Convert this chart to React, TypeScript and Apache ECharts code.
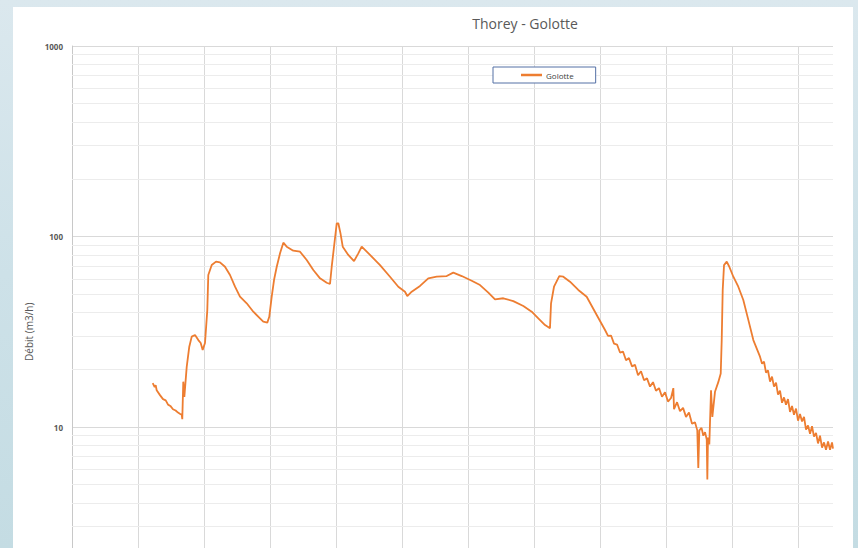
import React, { useEffect, useRef } from "react";
import * as echarts from "echarts";

const chartTitle = "Thorey - Golotte";
const seriesName = "Golotte";
const yAxisTitle = "Débit (m3/h)";

// x position in grid-column units (one vertical gridline per unit)
const timeAxis = [
  1.223, 1.253, 1.268, 1.283, 1.333, 1.379, 1.42, 1.455, 1.49, 1.53, 1.57, 1.606, 1.64, 1.662, 1.671, 1.686, 1.702,
  1.738, 1.777, 1.814, 1.864, 1.914, 1.95, 1.98, 2.015, 2.05, 2.065, 2.117, 2.182, 2.242, 2.318, 2.394, 2.47, 2.545,
  2.647, 2.747, 2.848, 2.898, 2.959, 2.989, 3.026, 3.061, 3.102, 3.152, 3.202, 3.253, 3.353, 3.455, 3.556, 3.656,
  3.758, 3.859, 3.909, 3.935, 3.97, 4.011, 4.035, 4.068, 4.102, 4.186, 4.273, 4.338, 4.389, 4.515, 4.667, 4.818,
  4.944, 5.045, 5.08, 5.147, 5.273, 5.398, 5.526, 5.677, 5.777, 5.905, 6.056, 6.182, 6.308, 6.409, 6.535, 6.686,
  6.838, 6.965, 7.065, 7.167, 7.242, 7.258, 7.303, 7.383, 7.444, 7.545, 7.671, 7.798, 7.95,
  8.076, 8.121, 8.167, 8.212, 8.258, 8.303, 8.348, 8.394, 8.439, 8.485, 8.53, 8.576, 8.621, 8.667, 8.712, 8.758,
  8.803, 8.848, 8.894, 8.939, 8.985, 9.03, 9.076, 9.111, 9.121, 9.167, 9.212, 9.258, 9.303, 9.348, 9.394, 9.439,
  9.474, 9.489, 9.505, 9.538, 9.565, 9.591, 9.617, 9.626, 9.636, 9.656, 9.682, 9.702, 9.742, 9.792, 9.829, 9.844,
  9.859, 9.879, 9.92, 9.959, 10.02, 10.095, 10.171, 10.247, 10.323, 10.424,
  10.455, 10.485, 10.515, 10.545, 10.576, 10.606, 10.636, 10.667, 10.697, 10.727, 10.758, 10.788, 10.818, 10.848,
  10.879, 10.909, 10.939, 10.97, 11.0, 11.03, 11.061, 11.091, 11.121, 11.152, 11.182, 11.212, 11.242, 11.273,
  11.303, 11.333, 11.364, 11.394, 11.424, 11.455, 11.485, 11.515, 11.53,
];

// Débit (m3/h)
const debit = [
  17.0, 16.2, 16.6, 15.6, 14.7, 14.0, 13.8, 13.1, 12.9, 12.4, 12.2, 11.9, 11.7, 11.6, 11.0, 17.3, 14.4,
  20.7, 26.4, 29.8, 30.4, 28.6, 27.6, 25.4, 27.6, 41.1, 62.8, 70.8, 73.8, 73.2, 69.4, 62.8, 54.5, 48.3,
  44.6, 40.3, 37.2, 35.7, 35.3, 37.9, 48.3, 59.1, 69.4, 81.6, 92.8, 88.4, 84.2, 83.2, 75.3, 66.7,
  60.3, 57.2, 56.3, 69.4, 88.4, 117.3, 117.3, 103.9, 88.4, 80.0, 74.2, 81.6, 88.4, 80.0, 70.8, 61.5,
  54.5, 51.3, 48.7, 51.3, 55.0, 60.3, 61.5, 62.0, 64.6, 62.0, 58.6, 55.6, 50.7, 46.8, 47.4, 45.8,
  43.2, 40.3, 37.2, 34.3, 33.0, 44.6, 54.5, 62.0, 61.5, 57.9, 52.4, 48.3, 38.7,
  32.3, 30.1, 30.2, 27.4, 27.1, 24.6, 24.9, 22.4, 23.0, 20.8, 21.2, 18.7, 19.6, 17.6, 18.0, 16.3,
  17.2, 15.5, 16.0, 14.4, 15.2, 13.6, 14.2, 16.0, 12.4, 13.5, 12.1, 12.6, 11.3, 11.9, 10.4, 10.6,
  9.6, 6.1, 9.6, 9.9, 9.0, 9.4, 8.6, 5.3, 8.8, 8.1, 15.6, 11.3, 15.3, 17.2, 19.1, 28.6,
  52.4, 70.8, 73.8, 69.4, 61.5, 54.5, 46.4, 36.5, 28.6, 23.4,
  21.5, 22.0, 19.3, 19.8, 17.3, 18.4, 16.3, 17.1, 14.8, 15.5, 13.4, 14.3, 13.1, 14.0,
  12.0, 12.9, 11.6, 12.5, 10.8, 11.7, 10.7, 11.3, 9.7, 10.2, 9.2, 10.1, 8.9, 9.3,
  8.2, 9.0, 7.8, 8.3, 7.6, 8.4, 7.6, 8.3, 7.7,
];

const minorGridValues = [
  2, 3, 4, 5, 6, 7, 8, 9, 20, 30, 40, 50, 60, 70, 80, 90, 200, 300, 400, 500, 600, 700, 800, 900,
];

const xMin = 0;
const xMax = 11.53;

export default function App() {
  const ref = useRef<HTMLDivElement>(null);

  useEffect(() => {
    if (!ref.current) return;
    const chart = echarts.init(ref.current, null, { renderer: "svg" });
    const points = timeAxis.map((x, i) => [x, debit[i]]);
    chart.setOption({
      animation: false,
      backgroundColor: "transparent",
      textStyle: { fontFamily: "'Open Sans', 'Noto Sans', sans-serif" },
      title: {
        text: chartTitle,
        left: 520,
        top: 11,
        textAlign: "center",
        textStyle: { fontSize: 14, fontWeight: "normal", color: "#595959" },
      },
      legend: {
        data: [{ name: seriesName, icon: "rect" }],
        left: 493,
        top: 67,
        itemWidth: 21,
        itemHeight: 2.5,
        itemGap: 5,
        padding: [4, 22, 4, 28],
        backgroundColor: "#ffffff",
        borderColor: "#5470a5",
        borderWidth: 1,
        borderRadius: 0,
        textStyle: { fontSize: 8, color: "#404040", padding: [0, 0, 0, -1] },
      },
      grid: { left: 72, right: 25, top: 46, bottom: 22.5, containLabel: false },
      xAxis: {
        type: "value",
        min: xMin,
        max: xMax,
        interval: 1,
        axisLabel: { show: false },
        axisTick: { show: false },
        axisLine: { show: true, lineStyle: { color: "#bfbfbf" } },
        splitLine: { show: true, showMaxLine: false, lineStyle: { color: "#d9d9d9", width: 1 } },
      },
      yAxis: {
        type: "log",
        logBase: 10,
        min: 1,
        max: 1000,
        name: yAxisTitle,
        nameLocation: "middle",
        nameRotate: 90,
        nameGap: 35,
        nameTextStyle: { fontSize: 10, color: "#595959" },
        axisLine: { show: true, lineStyle: { color: "#c8c8c8" } },
        axisTick: { show: false },
        axisLabel: {
          fontSize: 8,
          fontWeight: "bold",
          color: "#595959",
          margin: 9,
          formatter: (v: number) => (v <= 1 ? "" : String(Math.round(v))),
        },
        splitLine: { show: true, lineStyle: { color: "#d9d9d9", width: 1 } },
      },
      series: [
        {
          type: "line",
          name: "grid-minor",
          data: points,
          z: 1,
          symbol: "none",
          silent: true,
          lineStyle: { opacity: 0 },
          legendHoverLink: false,
          markLine: {
            silent: true,
            z: 1,
            symbol: ["none", "none"],
            label: { show: false },
            lineStyle: { color: "#ececec", type: "solid", width: 1 },
            data: minorGridValues.map((v) => ({ yAxis: v })),
          },
        },
        {
          type: "line",
          name: seriesName,
          data: points,
          z: 3,
          symbol: "none",
          showSymbol: false,
          color: "#ED7D31",
          lineStyle: { color: "#ED7D31", width: 1.8 },
        },
      ],
    });
    return () => chart.dispose();
  }, []);

  return (
    <div
      style={{
        position: "absolute",
        left: 0,
        top: 0,
        width: 858,
        height: 548,
        overflow: "hidden",
        background: "linear-gradient(180deg, #dbe8ee 0%, #cde1e8 50%, #c4dce3 100%)",
      }}
    >
      <div style={{ position: "absolute", left: 13, top: 7, width: 840, height: 700, background: "#ffffff" }} />
      <div ref={ref} style={{ position: "absolute", left: 0, top: 0, width: 858, height: 640 }} />
    </div>
  );
}
